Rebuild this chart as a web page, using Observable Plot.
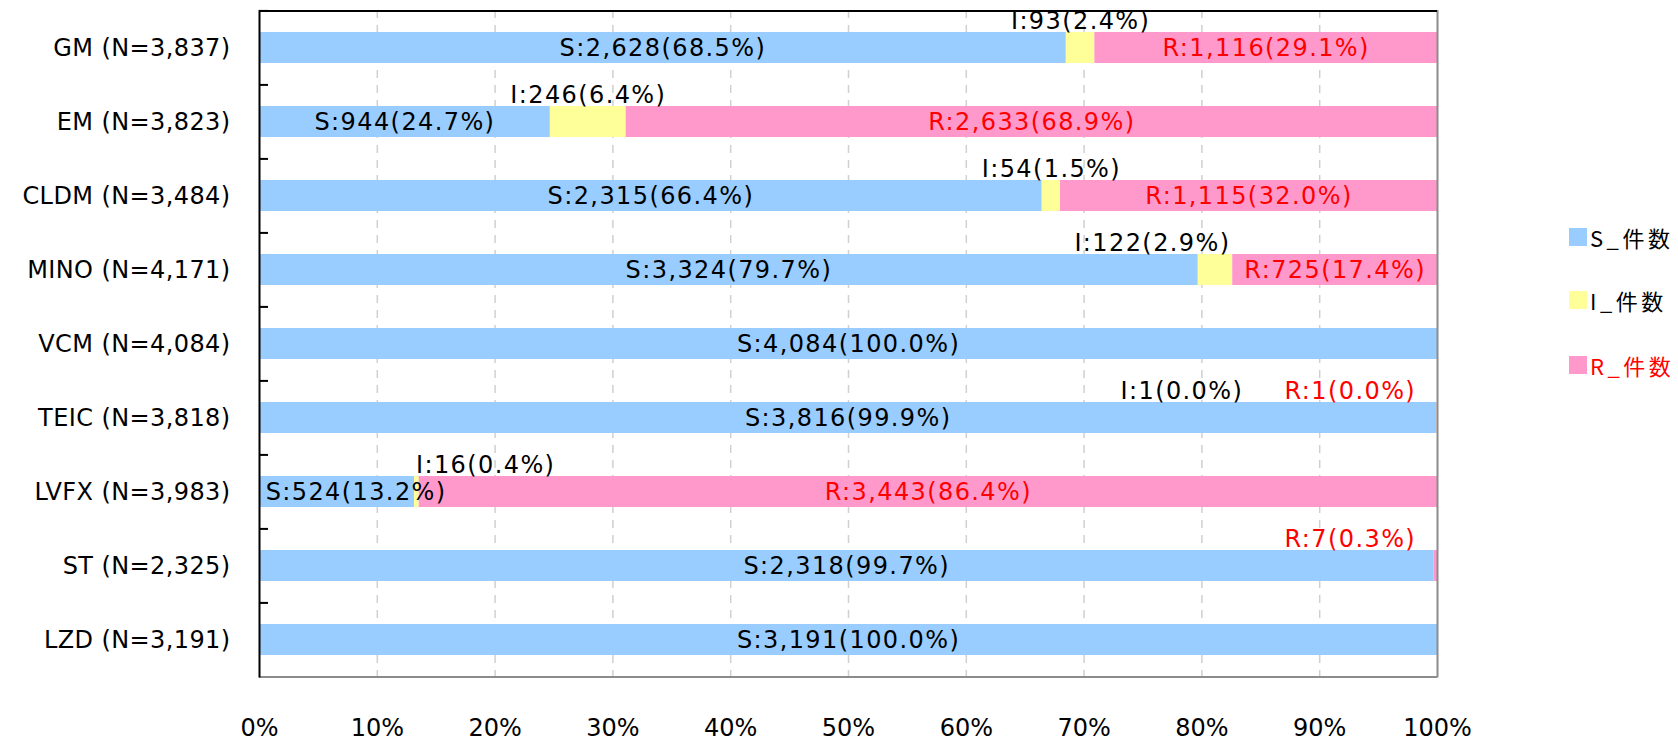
<!DOCTYPE html>
<html><head><meta charset="utf-8">
<script src="https://cdn.jsdelivr.net/npm/d3@7"></script>
<script src="https://cdn.jsdelivr.net/npm/@observablehq/plot@0.6"></script>
<style>
body{margin:0;background:#fff;}
#wrap{position:relative;width:1678px;height:741px;overflow:hidden;}
.leg{position:absolute;left:1569px;height:24px;display:flex;align-items:center;font-family:"Noto Sans CJK JP";font-size:22px;letter-spacing:3.5px;line-height:1;white-space:nowrap;}
.leg .sw{width:18px;height:18px;margin-right:3px;display:inline-block;}
</style></head><body><div id="wrap"></div>
<script>
// ---- data ----
const drugs   = ["GM","EM","CLDM","MINO","VCM","TEIC","LVFX","ST","LZD"];
const totals  = [3837,3823,3484,4171,4084,3818,3983,2325,3191];
const sCounts = [2628,944,2315,3324,4084,3816,524,2318,3191];
const iCounts = [93,246,54,122,0,1,16,0,0];
const rCounts = [1116,2633,1115,725,0,1,3443,7,0];
const types   = ["S","I","R"];
const legendLabels = ["S_件数","I_件数","R_件数"];
const xTicks  = [0,10,20,30,40,50,60,70,80,90,100];

// ---- presentation ----
const colors = ["#99CCFF","#FFFF99","#FF99CC"];
const legendTextColors = ["#000","#000","#FF0000"];
// label anchor overrides (x in percent) where the original labels were moved by hand
const labelAnchors = {"MINO|I":75.8,"TEIC|I":78.3,"TEIC|R":92.6,"LVFX|I":19.2,"LVFX|S":8.2,"ST|R":92.6};
// labels drawn above their bar (besides every I label)
const aboveLabels = ["TEIC|R","ST|R"];

const fmt = d3.format(",");
const yLabels = drugs.map((d,i)=>`${d} (N=${fmt(totals[i])})`);
const counts = {S:sCounts, I:iCounts, R:rCounts};

const rows = [];
drugs.forEach((d,i)=>{
  let acc = 0;
  types.forEach(t=>{
    const c = counts[t][i];
    const pct = c/totals[i]*100;
    const x1 = acc, x2 = acc + pct;
    acc = x2;
    if (c > 0) {
      const key = d+"|"+t;
      rows.push({
        drug:d, label:yLabels[i], type:t, x1, x2,
        lx: labelAnchors[key] ?? (x1+x2)/2,
        above: t==="I" || aboveLabels.includes(key),
        text:`${t}:${fmt(c)}(${pct.toFixed(1)}%)`
      });
    }
  });
});

const W=1678, H=741, mt=10, mb=63.4, ml=259, mr=241;
const step = (H-mt-mb)/drugs.length;

const chart = Plot.plot({
  width:W, height:H, marginLeft:ml, marginRight:mr, marginTop:mt, marginBottom:mb,
  style:{fontFamily:"DejaVu Sans", fontSize:"24px", color:"#000", background:"#fff", overflow:"visible"},
  x:{domain:[0,100], ticks:xTicks, tickFormat:d=>d+"%", label:null, tickSize:0, tickPadding:41},
  y:{domain:yLabels, paddingInner:0.575, paddingOuter:0.2875, label:null, tickSize:0, tickPadding:29},
  color:{domain:types, range:colors},
  marks:[
    Plot.ruleX(xTicks.slice(1,-1), {stroke:"#d0d0d0", strokeWidth:1.5, strokeDasharray:"8,7"}),
    Plot.barX(rows, {x1:"x1", x2:"x2", y:"label", fill:"type"}),
    Plot.ruleX([100], {stroke:"#8c8c8c", strokeWidth:2}),
    Plot.ruleY([yLabels[yLabels.length-1]], {dy:step/2, stroke:"#8c8c8c", strokeWidth:2}),
    Plot.ruleY([yLabels[0]], {dy:-step/2, stroke:"#000", strokeWidth:2}),
    Plot.ruleX([0], {stroke:"#000", strokeWidth:2}),
    Plot.ruleY(yLabels, {dy:-step/2, x1:0, x2:0, insetRight:-9, stroke:"#000", strokeWidth:2}),
    Plot.text(rows.filter(r=>r.type!=="R" && !r.above), {x:"lx", y:"label", text:"text", fill:"#000"}),
    Plot.text(rows.filter(r=>r.type!=="R" && r.above), {x:"lx", y:"label", text:"text", fill:"#000", dy:-27}),
    Plot.text(rows.filter(r=>r.type==="R" && !r.above), {x:"lx", y:"label", text:"text", fill:"#FF0000"}),
    Plot.text(rows.filter(r=>r.type==="R" && r.above), {x:"lx", y:"label", text:"text", fill:"#FF0000", dy:-27})
  ]
});

chart.querySelectorAll('g[aria-label="text"] text').forEach(t=>t.style.letterSpacing="1.4px");
chart.querySelectorAll('[aria-label^="y-axis"] text').forEach(t=>t.style.letterSpacing="0.4px");

const wrap = document.getElementById("wrap");
wrap.appendChild(chart);
const legendCenters = [237,300,365];
types.forEach((t,k)=>{
  const div = document.createElement("div");
  div.className="leg";
  div.style.top = (legendCenters[k]-12)+"px";
  const sw = document.createElement("span");
  sw.className="sw"; sw.style.background = colors[k];
  const tx = document.createElement("span");
  tx.textContent = legendLabels[k]; tx.style.color = legendTextColors[k];
  div.appendChild(sw); div.appendChild(tx);
  wrap.appendChild(div);
});
</script></body></html>
